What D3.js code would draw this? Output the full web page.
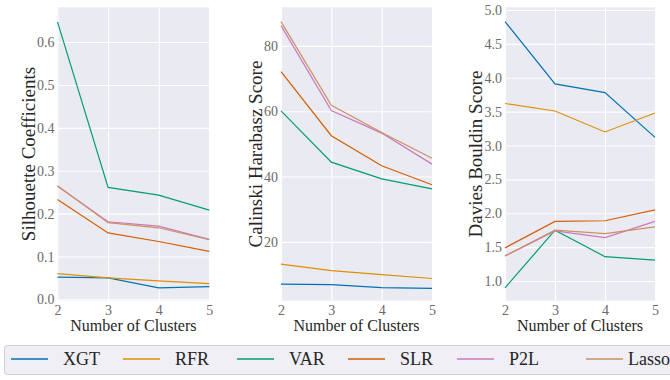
<!DOCTYPE html>
<html>
<head>
<meta charset="utf-8">
<script src="https://cdn.jsdelivr.net/npm/d3@7"></script>
<style>
  html, body { margin: 0; padding: 0; background: #fff; }
  svg { display: block; }
</style>
</head>
<body>
<div id="vis"></div>
<script>
// data
var clusters = [2, 3, 4, 5];
var models = ["XGT", "RFR", "VAR", "SLR", "P2L", "Lasso"];
var colors = ["#0173b2", "#de8f05", "#029e73", "#d55e00", "#cc78bc", "#ca9161"];

var silhouette = {
  XGT:   [0.052, 0.050, 0.027, 0.030],
  RFR:   [0.060, 0.050, 0.043, 0.037],
  VAR:   [0.647, 0.261, 0.243, 0.208],
  SLR:   [0.233, 0.155, 0.135, 0.112],
  P2L:   [0.264, 0.181, 0.171, 0.140],
  Lasso: [0.265, 0.179, 0.167, 0.139]
};
var calinski = {
  XGT:   [7.1, 6.9, 6.0, 5.8],
  RFR:   [13.2, 11.2, 10.0, 8.8],
  VAR:   [60.1, 44.4, 39.3, 36.2],
  SLR:   [72.1, 52.5, 43.3, 37.5],
  P2L:   [86.2, 60.2, 53.3, 43.8],
  Lasso: [87.4, 61.8, 53.5, 45.6]
};
var davies = {
  XGT:   [4.83, 3.91, 3.78, 3.12],
  RFR:   [3.62, 3.51, 3.20, 3.48],
  VAR:   [0.90, 1.75, 1.36, 1.31],
  SLR:   [1.49, 1.88, 1.89, 2.05],
  P2L:   [1.37, 1.74, 1.64, 1.88],
  Lasso: [1.37, 1.75, 1.70, 1.80]
};

var silTicks = [0.0, 0.1, 0.2, 0.3, 0.4, 0.5, 0.6];
var calTicks = [20, 40, 60, 80];
var davTicks = [1.0, 1.5, 2.0, 2.5, 3.0, 3.5, 4.0, 4.5, 5.0];

var panels = [
  { data: silhouette, ticks: silTicks, fmt: d3.format(".1f"), domain: [-0.003, 0.681],
    label: "Silhouette Coefficients", left: 57.5, right: 209.3, labelX: 35 },
  { data: calinski, ticks: calTicks, fmt: d3.format("d"), domain: [2.0, 91.8],
    label: "Calinski Harabasz Score", left: 281, right: 432, labelX: 262 },
  { data: davies, ticks: davTicks, fmt: d3.format(".1f"), domain: [0.71, 5.04],
    label: "Davies Bouldin Score", left: 505, right: 655, labelX: 482 }
];

var W = 670, H = 380, plotTop = 7.3, plotBottom = 300.7;
var serif = "Liberation Serif, DejaVu Serif, serif";

var svg = d3.select("#vis").append("svg")
  .attr("width", W)
  .attr("height", H)
  .style("font-family", serif);

panels.forEach(function(p) {
  var x = d3.scaleLinear().domain([2, 5]).range([p.left, p.right]);
  var y = d3.scaleLinear().domain(p.domain).range([plotBottom, plotTop]);

  var g = svg.append("g");

  g.append("rect")
    .attr("x", p.left).attr("y", plotTop)
    .attr("width", p.right - p.left).attr("height", plotBottom - plotTop)
    .attr("fill", "#eaeaf2");

  // grid
  g.append("g")
    .attr("transform", "translate(" + p.left + ",0)")
    .call(d3.axisLeft(y).tickValues(p.ticks).tickSize(-(p.right - p.left)).tickFormat(""))
    .call(function(s) {
      s.select(".domain").remove();
      s.selectAll("line").attr("stroke", "#fff").attr("stroke-width", 1.1);
    });
  g.append("g")
    .attr("transform", "translate(0," + plotBottom + ")")
    .call(d3.axisBottom(x).tickValues(clusters).tickSize(-(plotBottom - plotTop)).tickFormat(""))
    .call(function(s) {
      s.select(".domain").remove();
      s.selectAll("line").attr("stroke", "#fff").attr("stroke-width", 1.1);
    });

  // tick labels
  g.append("g")
    .attr("transform", "translate(" + p.left + ",0)")
    .call(d3.axisLeft(y).tickValues(p.ticks).tickSize(0).tickPadding(3).tickFormat(p.fmt))
    .call(function(s) {
      s.select(".domain").remove();
      s.attr("font-family", null).attr("font-size", null);
      s.selectAll("text").attr("fill", "#6a6a6a").style("font-size", "14px");
    });
  g.append("g")
    .attr("transform", "translate(0," + plotBottom + ")")
    .call(d3.axisBottom(x).tickValues(clusters).tickSize(0).tickPadding(4).tickFormat(d3.format("d")))
    .call(function(s) {
      s.select(".domain").remove();
      s.attr("font-family", null).attr("font-size", null);
      s.selectAll("text").attr("fill", "#6a6a6a").style("font-size", "14px");
    });

  // lines
  var line = d3.line()
    .x(function(d, i) { return x(clusters[i]); })
    .y(function(d) { return y(d); });

  models.forEach(function(m, i) {
    g.append("path")
      .datum(p.data[m])
      .attr("d", line)
      .attr("fill", "none")
      .attr("stroke", colors[i])
      .attr("stroke-width", 1.2);
  });

  // axis labels
  g.append("text")
    .attr("x", (p.left + p.right) / 2)
    .attr("y", 331)
    .attr("text-anchor", "middle")
    .attr("fill", "#262626")
    .style("font-size", "16px")
    .text("Number of Clusters");

  g.append("text")
    .attr("transform", "translate(" + p.labelX + "," + ((plotTop + plotBottom) / 2) + ") rotate(-90)")
    .attr("text-anchor", "middle")
    .attr("fill", "#262626")
    .style("font-size", "19px")
    .text(p.label);
});

// legend
var legend = svg.append("g");
legend.append("rect")
  .attr("x", 4.5).attr("y", 345.5)
  .attr("width", 700).attr("height", 29)
  .attr("rx", 3)
  .attr("fill", "#efeff5")
  .attr("stroke", "#d0d0d0");

var legendX = [11, 123, 237, 348, 457, 586];
var textGap = [15, 15, 15, 15, 15, 5];
models.forEach(function(m, i) {
  var lx = legendX[i];
  legend.append("line")
    .attr("x1", lx).attr("x2", lx + 37)
    .attr("y1", 359).attr("y2", 359)
    .attr("stroke", colors[i]).attr("stroke-width", 1.5);
  legend.append("text")
    .attr("x", lx + 37 + textGap[i])
    .attr("y", 365)
    .attr("fill", "#262626")
    .style("font-size", "18px")
    .text(m);
});
</script>
</body>
</html>
